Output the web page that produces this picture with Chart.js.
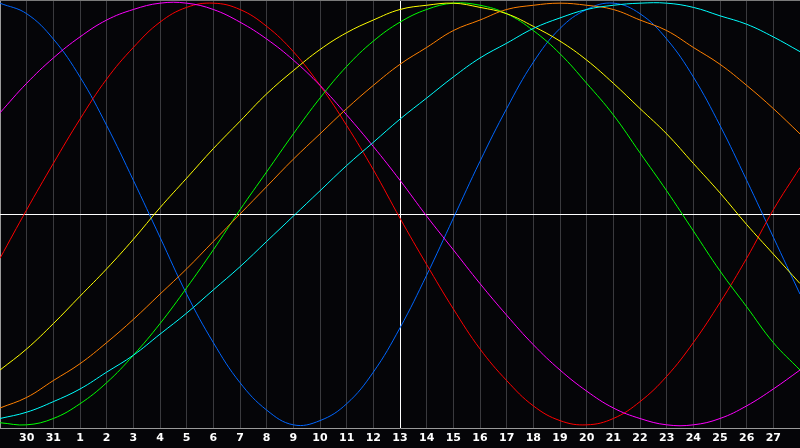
<!DOCTYPE html>
<html>
<head>
<meta charset="utf-8">
<script src="https://cdn.jsdelivr.net/npm/chart.js@4.4.0/dist/chart.umd.min.js"></script>
<style>
  html, body { margin: 0; padding: 0; background: #050508; }
  #wrap { width: 800px; height: 448px; }
</style>
</head>
<body>
<div id="wrap"><canvas id="bio" width="800" height="448"></canvas></div>
<script>
// days shown on the axis (first and last are the chart edges, not labelled)
var days = ["29","30","31","1","2","3","4","5","6","7","8","9","10","11","12","13",
            "14","15","16","17","18","19","20","21","22","23","24","25","26","27","28"];
var todayIndex = 15;

// curves, one value per day (-1 .. 1)
var physical =     [1.00,0.95,0.83,0.65,0.42,0.16,-0.11,-0.38,-0.61,-0.80,-0.93,-1.00,-0.98,-0.90,-0.75,-0.54,
                    -0.29,-0.02,0.25,0.50,0.72,0.88,0.97,1.00,0.95,0.83,0.65,0.42,0.16,-0.11,-0.38];
var emotional =    [-0.21,0.02,0.24,0.45,0.64,0.79,0.91,0.98,1.00,0.97,0.89,0.77,0.61,0.42,0.21,-0.02,
                    -0.24,-0.45,-0.64,-0.79,-0.91,-0.98,-1.00,-0.97,-0.89,-0.77,-0.61,-0.42,-0.21,0.02,0.22];
var intellectual = [-0.99,-1.00,-0.97,-0.90,-0.80,-0.67,-0.52,-0.35,-0.17,0.02,0.20,0.38,0.55,0.70,0.82,0.91,
                    0.97,1.00,0.99,0.95,0.87,0.76,0.62,0.47,0.29,0.11,-0.08,-0.27,-0.44,-0.61,-0.74];
var intuitive =    [0.48,0.62,0.74,0.84,0.92,0.97,1.00,1.00,0.97,0.91,0.83,0.73,0.61,0.47,0.32,0.16,
                    -0.01,-0.17,-0.33,-0.48,-0.62,-0.74,-0.84,-0.92,-0.97,-1.00,-1.00,-0.97,-0.91,-0.83,-0.74];
var aesthetic =    [-0.74,-0.64,-0.52,-0.39,-0.26,-0.12,0.03,0.17,0.31,0.44,0.57,0.68,0.78,0.86,0.92,0.97,
                    0.99,1.00,0.98,0.95,0.89,0.82,0.73,0.62,0.50,0.38,0.24,0.10,-0.05,-0.19,-0.33];
var awareness =    [-0.92,-0.87,-0.79,-0.71,-0.61,-0.50,-0.38,-0.26,-0.13,0.00,0.13,0.26,0.38,0.50,0.61,0.71,
                    0.79,0.87,0.92,0.97,0.99,1.00,0.99,0.97,0.92,0.87,0.79,0.71,0.61,0.50,0.38];
var spiritual =    [-0.97,-0.94,-0.89,-0.83,-0.75,-0.67,-0.57,-0.47,-0.36,-0.25,-0.13,-0.01,0.11,0.23,0.34,0.45,
                    0.55,0.65,0.74,0.81,0.88,0.93,0.97,0.99,1.00,1.00,0.98,0.94,0.90,0.84,0.77];

var yMin = -1.015, yMax = 1.015;

function line(data, color) {
  return {
    data: data,
    borderColor: color,
    borderWidth: 1,
    pointRadius: 0,
    tension: 0.4,
    fill: false
  };
}

new Chart(document.getElementById("bio"), {
  type: 'line',
  data: {
    labels: days,
    datasets: [
      line(spiritual, "#00ffff"),
      line(awareness, "#ff8000"),
      line(aesthetic, "#ffff00"),
      line(intellectual, "#00ff00"),
      line(intuitive, "#ff00ff"),
      line(emotional, "#ff0000"),
      line(physical, "#0066ff")
    ]
  },
  options: {
    responsive: false,
    animation: false,
    devicePixelRatio: 1,
    layout: { padding: 0 },
    plugins: { legend: { display: false }, tooltip: { enabled: false } },
    scales: {
      x: {
        offset: false,
        border: { display: true, color: "#9a9a9a", width: 1 },
        grid: {
          drawTicks: false,
          lineWidth: 1,
          color: function(ctx) {
            if (ctx.index === 0) return "#9a9a9a";
            if (ctx.index === todayIndex) return "#ffffff";
            if (ctx.index === days.length - 1) return "rgba(0,0,0,0)";
            return "#3a3a3e";
          }
        },
        ticks: {
          autoSkip: false,
          maxRotation: 0,
          padding: 4,
          color: "#ffffff",
          font: { family: "DejaVu Sans", size: 11, weight: "bold" },
          callback: function(v, i) {
            return (i === 0 || i === days.length - 1) ? "" : days[i];
          }
        },
        afterFit: function(axis) {
          axis.height = 20;
          axis.paddingLeft = 0;
          axis.paddingRight = 0;
        }
      },
      y: {
        min: yMin,
        max: yMax,
        border: { display: false },
        grid: {
          drawTicks: false,
          lineWidth: 1,
          color: function(ctx) {
            if (ctx.tick.value === 0) return "#ffffff";
            if (ctx.tick.value === yMax) return "#7a7a7a";
            return "rgba(0,0,0,0)";
          }
        },
        ticks: { display: false },
        afterBuildTicks: function(axis) {
          axis.ticks = [{ value: yMin }, { value: 0 }, { value: yMax }];
        },
        afterFit: function(axis) {
          axis.width = 0;
          axis.paddingTop = 0;
          axis.paddingBottom = 0;
        }
      }
    }
  }
});
</script>
</body>
</html>
